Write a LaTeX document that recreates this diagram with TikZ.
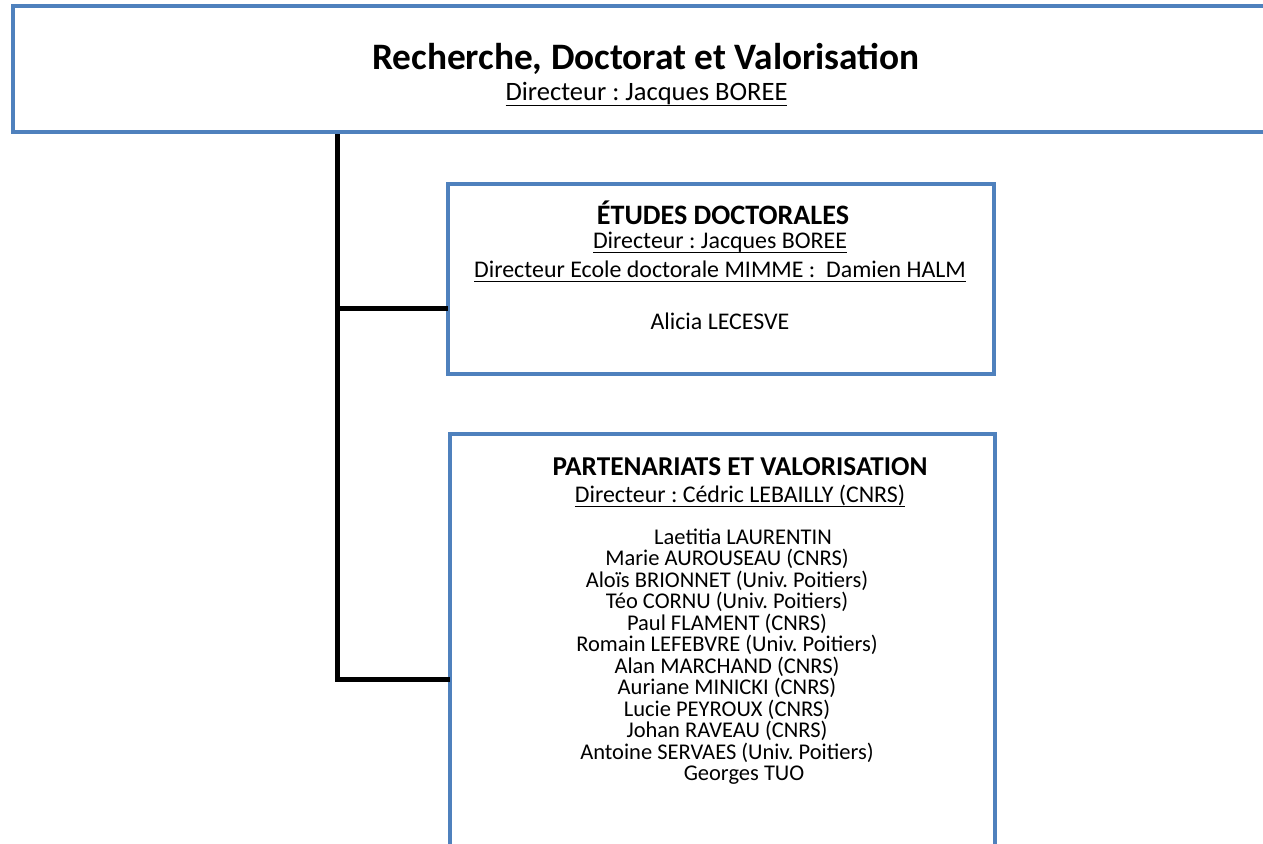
\documentclass[tikz,border=0pt]{standalone}
\usepackage{fontspec}
\setmainfont{Carlito}
\usepackage{xcolor}
\usetikzlibrary{positioning}
\definecolor{boxblue}{RGB}{79,129,189}
\newcommand{\souligne}[1]{\setbox0\hbox{#1}\rlap{\rule[-0.22em]{\wd0}{0.045em}}\box0}
\frenchspacing

\tikzset{
  box/.style={draw=boxblue, line width=0.09cm, rectangle, inner sep=0pt},
  link/.style={draw=black, line width=0.1cm},
  txt/.style={inner sep=0pt, anchor=base, align=center},
}

\begin{document}
\begin{tikzpicture}[x=0.02cm,y=-0.02cm]
\useasboundingbox (0,0) rectangle (1263,843);
\clip (0,0) rectangle (1263,843);

\coordinate (tronc) at (337,0);
\coordinate (e1) at (448,308);
\coordinate (p1) at (450,679);

\node[box, minimum width=25.54cm, minimum height=2.52cm] (rdv) at (651.5,69) {};
\node[box, minimum width=10.92cm, minimum height=3.8cm] (etudes) at (721,279) {};
\node[box, minimum width=10.9cm, minimum height=9.32cm] (partenariats) at (722.5,667) {};

\draw[link] (rdv.south -| tronc) |- (e1);
\draw[link] (rdv.south -| tronc) |- (p1);

\node[txt, font=\bfseries\fontsize{21.25}{25}\selectfont] (rdv-titre) at (646,69) {Recherche, Doctorat et Valorisation};
\node[txt, font=\fontsize{15.1}{18}\selectfont] (rdv-dir) at (646.5,100) {\souligne{Directeur : Jacques BOREE}};

\node[txt, font=\bfseries\fontsize{16}{19}\selectfont] (etudes-titre) at (723,224) {ÉTUDES DOCTORALES};
\node[txt, font=\fontsize{13.6}{16.6}\selectfont] (etudes-dir) at (720,248) {\souligne{Directeur : Jacques BOREE}};
\node[txt, font=\fontsize{13.6}{16.6}\selectfont] (etudes-ed) at (720,277) {\souligne{Directeur Ecole doctorale MIMME :\ \ Damien HALM}};
\node[txt, font=\fontsize{13.6}{16.6}\selectfont] (etudes-nom) at (720,329) {Alicia LECESVE};

\node[txt, font=\bfseries\fontsize{15.5}{18}\selectfont] (partenariats-titre) at (740,475) {PARTENARIATS ET VALORISATION};
\node[txt, font=\fontsize{13.6}{16.6}\selectfont] (partenariats-dir) at (740,502) {\souligne{Directeur : Cédric LEBAILLY (CNRS)}};

\foreach \nom [count=\i from 0] in {\hspace*{0.64cm}Laetitia LAURENTIN, Marie AUROUSEAU (CNRS),
  Aloïs BRIONNET (Univ. Poitiers), Téo CORNU (Univ. Poitiers), Paul FLAMENT (CNRS),
  Romain LEFEBVRE (Univ. Poitiers), Alan MARCHAND (CNRS), Auriane MINICKI (CNRS),
  Lucie PEYROUX (CNRS), Johan RAVEAU (CNRS), Antoine SERVAES (Univ. Poitiers),
  \hspace*{0.68cm}Georges TUO}
  \node[txt, font=\fontsize{12.8}{15}\selectfont] (membre-\i) at (727,544+21.5*\i) {\nom};
\end{tikzpicture}
\end{document}
